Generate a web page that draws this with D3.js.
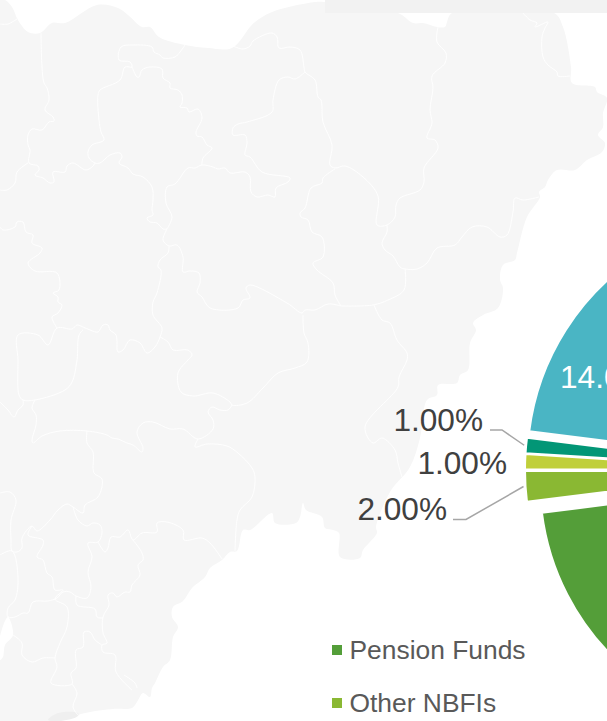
<!DOCTYPE html>
<meta charset="utf-8">
<style>
  html, body { margin: 0; padding: 0; background: #fff; overflow: hidden; }
  text { font-family: "Liberation Sans", Arial, sans-serif; }
</style>
<svg width="607" height="721"></svg>
<script src="https://cdn.jsdelivr.net/npm/d3@7"></script>
<script>

// pie, from the slice at 97deg clockwise. last value is the off-page remainder
var sliceValues = [46, 2, 1, 1, 14, 36];
var sliceColors = ["#549e39", "#8ab833", "#c0cf3a", "#029676", "#4ab5c4", "#0989b1"];
var legendLabels = ["Pension Funds", "Other NBFIs"];

// background map
var landOutline = [[5,0],[12,7],[18,20],[28,32],[40,33],[52,23],[65,23],[97,5],[118,8],[128,15],[142,27],[150,27],[159,37],[185,45],[208,48],[232,48],[250,27],[255,22],[272,12],[315,2],[325,2],[398,13],[413,23],[423,23],[437,27],[445,27],[447,22],[452,13],[554,13],[563,27],[571,67],[572,83],[595,87],[597,92],[607,98],[603,113],[603,127],[598,135],[605,143],[602,152],[587,160],[575,170],[557,170],[548,180],[545,187],[539,192],[540,197],[527,217],[517,253],[515,260],[503,265],[500,280],[503,288],[498,308],[483,315],[473,323],[476,330],[470,343],[468,370],[460,375],[457,383],[438,385],[437,395],[427,400],[420,438],[410,467],[390,492],[376,527],[377,533],[363,550],[360,558],[340,557],[339,533],[333,530],[325,528],[322,517],[306,510],[303,503],[300,517],[296,523],[275,523],[272,513],[250,530],[243,530],[237,551],[230,552],[222,560],[210,568],[205,577],[192,588],[183,601],[173,607],[172,617],[178,627],[173,637],[170,660],[163,667],[155,683],[152,688],[150,697],[143,693],[137,702],[132,708],[113,709],[90,712],[78,715],[60,721],[0,721],[0,0]];
var lakeOutline = [[8,617],[13,635],[5,645],[3,657],[0,660],[0,637]];
var coastPatch = [[48,720],[58,713],[78,713],[78,716],[60,721]];
var borderLines = [
  [[0,24],[8,24],[17,19]],
  [[41,33],[42,67],[44,83],[47,88],[49,100],[45,110],[53,117],[54,121],[49,122],[42,130],[32,129],[28,135],[28,145],[30,150],[29,163],[38,166],[39,170],[35,175],[43,178],[50,183],[54,182],[53,172],[65,172],[67,166],[73,163],[86,170],[93,166],[95,163]],
  [[0,190],[7,190],[15,183],[17,172],[28,163]],
  [[185,45],[180,52],[175,57],[163,58],[160,55],[154,52],[152,47],[133,45],[121,47],[119,60],[130,62],[132,67],[125,67],[120,80],[100,90],[98,95],[99,120],[101,132],[104,140],[92,145],[88,152],[89,158],[95,163],[100,163],[110,155],[120,153],[122,157],[119,163],[128,168],[133,174],[143,177],[152,187],[153,200],[152,210],[153,215],[147,218],[150,222],[157,223],[163,229],[167,229]],
  [[132,67],[137,77],[139,77],[142,70],[150,67],[162,69],[163,78],[170,83],[170,88],[178,90],[182,95],[182,103],[180,107],[187,108],[189,112],[198,109],[202,118],[196,132],[197,136],[202,137],[207,145],[212,148],[203,158],[202,165]],
  [[167,229],[172,217],[166,203],[167,187],[175,184],[188,168],[195,168],[202,165],[213,167],[218,169],[225,168],[230,173],[245,172],[250,177],[251,192],[257,197],[268,195],[275,197],[276,188],[288,182],[290,178],[262,172],[250,157],[245,155],[247,143],[245,135],[233,135],[233,128],[238,124],[247,122],[272,112],[273,100],[279,80],[288,77],[295,79],[305,72]],
  [[233,46],[243,49],[250,46],[253,41],[272,33],[277,37],[279,48],[290,47],[300,50],[304,67],[305,72],[315,80],[318,97],[321,100],[323,122],[332,145],[330,165],[335,168],[345,166],[363,177],[378,196],[377,225],[387,225],[395,217],[396,205],[400,198],[420,190],[424,182],[424,168],[438,148],[435,140],[427,138],[432,123],[430,110],[433,88],[432,76],[445,63],[446,53],[437,42],[438,27]],
  [[387,225],[387,232],[382,243],[385,250],[393,256],[400,267],[405,269],[417,269],[427,263],[437,248],[455,245],[462,237],[472,227],[487,227],[500,237],[507,235],[513,212],[515,198],[523,200],[539,197]],
  [[523,13],[530,20],[537,23],[535,27],[548,22],[545,28],[542,37],[543,57],[548,65],[557,72],[558,76],[570,76]],
  [[405,269],[404,290],[388,300],[373,305],[341,306]],
  [[335,169],[323,178],[322,183],[311,188],[305,208],[300,213],[301,217],[308,220],[312,232],[322,237],[323,257],[313,263],[317,270],[333,283],[335,295],[341,306]],
  [[341,306],[328,304],[315,310],[305,310],[302,313],[287,303],[250,285],[246,288],[250,298],[243,300],[238,308],[210,308],[202,297],[197,292],[200,283],[199,273],[190,271],[183,272],[183,257],[177,245],[169,246],[163,240],[167,229]],
  [[374,305],[382,320],[390,323],[397,340],[407,353],[407,360],[399,377],[398,387],[365,427],[373,443],[382,438],[395,450],[398,463],[402,477]],
  [[169,246],[168,253],[160,260],[158,267],[161,270],[157,293],[153,302],[153,315],[162,328],[160,337],[155,347],[147,353],[140,343],[130,340],[123,350],[118,352],[116,335],[110,330],[108,325],[103,325],[98,332],[90,330],[83,327],[77,325],[72,329],[57,328],[48,345],[38,335],[18,335],[18,360],[19,395],[23,400],[35,400],[65,390],[72,382],[77,360],[79,335],[83,330]],
  [[0,227],[3,230],[15,227],[17,222],[23,222],[26,232],[33,235],[32,243],[42,248],[40,253],[28,263],[35,271],[57,273],[59,290],[53,293],[58,297],[58,302],[62,305],[58,313],[52,317],[57,328]],
  [[160,337],[168,342],[173,350],[188,350],[192,355],[188,360],[178,373],[181,392],[193,396],[213,393],[230,402],[232,405],[247,403],[263,388],[278,373],[295,368],[307,362],[308,343],[304,333],[303,315]],
  [[232,405],[228,410],[220,410],[212,407],[208,412],[213,420],[213,429],[198,439],[183,429],[170,429],[153,422],[143,423],[137,432],[143,448],[142,452],[133,445],[127,443],[118,439],[112,438],[107,435],[87,431],[60,431],[42,436],[33,443],[32,440],[36,425],[36,415],[32,408],[35,400]],
  [[23,400],[23,405],[18,410],[14,417],[8,410],[0,402]],
  [[198,439],[195,447],[207,444],[227,446],[238,453],[252,468],[255,477],[252,497],[240,510],[237,520],[235,551]],
  [[87,431],[87,443],[93,452],[94,473],[102,479],[98,497],[85,505],[83,513],[73,507],[67,504],[58,510],[50,520],[37,531],[32,526],[22,538],[22,548],[17,552],[12,551],[11,540],[11,520],[16,500],[10,492],[0,493]],
  [[0,555],[12,551],[18,578],[15,600],[8,608],[8,617],[15,617],[23,613],[28,613],[33,602],[48,601],[57,598],[63,592],[70,592],[76,596],[87,598],[91,587],[88,572],[92,557],[88,543],[98,542],[102,533],[100,525],[93,523],[87,526],[78,520],[73,507]],
  [[98,542],[105,552],[108,548],[111,537],[120,537],[128,530],[133,540],[142,533],[157,532],[157,523],[167,522],[183,530],[184,540],[202,538],[210,543],[222,559]],
  [[133,540],[142,553],[143,560],[138,565],[140,575],[132,585],[130,592],[125,592],[117,597],[113,593],[108,595],[109,605],[103,617],[103,633],[107,643],[102,645],[103,652],[115,655],[116,672],[132,690]],
  [[124,675],[135,683],[137,688]],
  [[32,526],[28,535],[43,540],[43,545],[37,557],[43,560],[47,573],[52,577],[55,590],[63,590],[55,599],[67,607],[67,627],[60,643],[55,658],[57,667],[51,683],[72,684],[71,673],[76,668],[76,650],[83,647],[84,632],[90,632],[95,640],[102,645]],
  [[76,596],[77,605],[95,609],[97,617],[103,618]],
  [[13,635],[22,643],[22,655],[32,662],[43,658],[55,658]],
  [[72,684],[77,693],[73,707],[78,715]]
];

var svg = d3.select("svg");

// map
var smoothLine = d3.line().curve(d3.curveCatmullRom.alpha(0.5));
var smoothLoop = d3.line().curve(d3.curveCatmullRomClosed.alpha(0.5));

var map = svg.append("g");
map.append("path").attr("d", smoothLoop(landOutline)).attr("fill", "#f6f6f6");
map.append("path").attr("d", smoothLoop(lakeOutline)).attr("fill", "#fff");
map.append("path").attr("d", smoothLoop(coastPatch)).attr("fill", "#efefef");
map.selectAll("path.border")
    .data(borderLines)
  .enter().append("path")
    .attr("class", "border")
    .attr("d", smoothLine)
    .attr("fill", "none")
    .attr("stroke", "#fff")
    .attr("stroke-width", 0.9);

svg.append("rect")
    .attr("x", 325).attr("y", 0)
    .attr("width", 282).attr("height", 13)
    .attr("fill", "#f2f2f2");

// pie
var cx = 786, cy = 470, radius = 246;
var startDeg = 97.2;

var color = d3.scaleOrdinal().domain(d3.range(sliceValues.length)).range(sliceColors);

var pie = d3.pie().sort(null)
    .startAngle(startDeg * Math.PI / 180)
    .endAngle((startDeg + 360) * Math.PI / 180);

var arc = d3.arc().innerRadius(0).outerRadius(radius);
var rimArc = d3.arc().innerRadius(radius + 2).outerRadius(radius + 2);

var slices = pie(sliceValues);

// big green slice sits a bit closer in than the others
function pull(d, i) {
  var mid = (d.startAngle + d.endAngle) / 2,
      off = i === 0 ? 12 : 15;
  return [cx + off * Math.sin(mid), cy - off * Math.cos(mid)];
}

svg.append("g").selectAll("path")
    .data(slices)
  .enter().append("path")
    .attr("transform", function(d, i) { return "translate(" + pull(d, i) + ")"; })
    .attr("d", arc)
    .attr("fill", function(d, i) { return color(i); })
    .attr("stroke", "#fff")
    .attr("stroke-width", 2);

// labels, placed by hand like in the original. index = slice
var pct = function(v) { return d3.format(".2f")(v) + "%"; };
var labelSpots = [
  {i: 1, x: 447, y: 520, elbow: [[453, 519.5], [466, 519.5]]},
  {i: 2, x: 507, y: 474, elbow: null},
  {i: 3, x: 483, y: 431, elbow: [[490, 430], [502, 430]]}
];

labelSpots.forEach(function(s) {
  var d = slices[s.i];
  svg.append("text")
      .attr("x", s.x).attr("y", s.y)
      .attr("text-anchor", "end")
      .attr("font-size", 31.6)
      .attr("fill", "#404040")
      .text(pct(d.value));
  if (s.elbow) {
    var p = pull(d, s.i), c = rimArc.centroid(d);
    svg.append("path")
        .attr("d", d3.line()(s.elbow.concat([[p[0] + c[0], p[1] + c[1]]])))
        .attr("fill", "none")
        .attr("stroke", "#a6a6a6")
        .attr("stroke-width", 1.5);
  }
});

svg.append("text")
    .attr("x", 560).attr("y", 388)
    .attr("font-size", 31.6)
    .attr("fill", "#fff")
    .text(pct(sliceValues[4]));

// legend
var legend = svg.append("g").selectAll("g")
    .data(legendLabels)
  .enter().append("g")
    .attr("transform", function(d, i) { return "translate(332," + (645 + i * 53) + ")"; });

legend.append("rect")
    .attr("width", 10).attr("height", 10)
    .attr("fill", function(d, i) { return color(i); });

legend.append("text")
    .attr("x", 17.5).attr("y", 14)
    .attr("font-size", 26.4)
    .attr("fill", "#595959")
    .text(function(d) { return d; });

</script>
